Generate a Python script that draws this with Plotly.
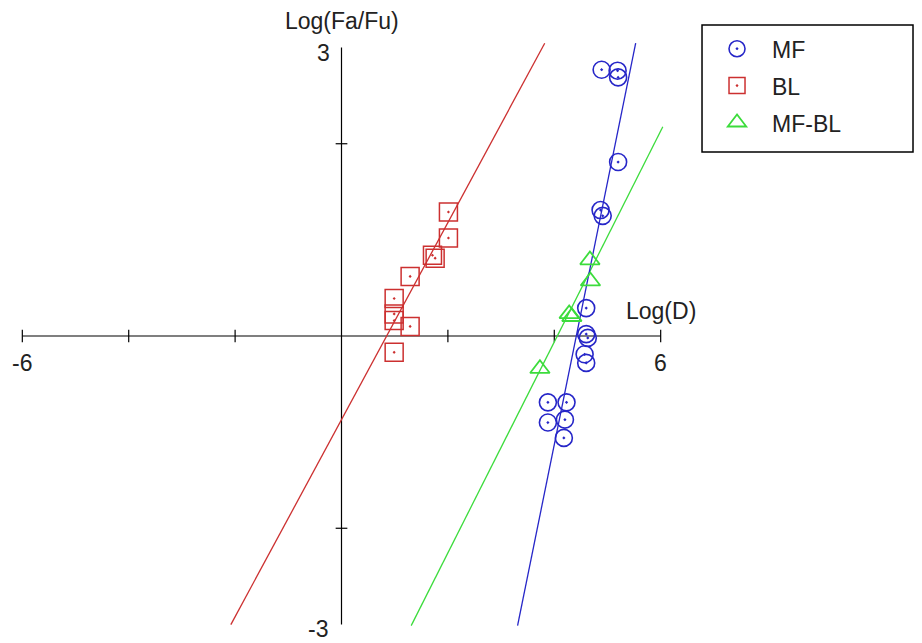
import plotly.graph_objects as go

# ---- data ----
mf_x = [4.89, 5.19, 5.20, 5.20, 4.87, 4.91, 4.60, 4.60, 4.63, 4.57, 4.60, 3.88, 4.23, 3.88, 4.20, 4.18]
mf_y = [2.77, 2.76, 2.69, 1.81, 1.31, 1.25, 0.29, 0.02, -0.02, -0.19, -0.28, -0.69, -0.69, -0.90, -0.87, -1.06]
bl_x = [2.01, 2.01, 1.71, 1.76, 1.29, 0.99, 0.99, 0.99, 1.29, 0.99]
bl_y = [1.29, 1.02, 0.84, 0.81, 0.62, 0.39, 0.23, 0.16, 0.10, -0.17]
mfbl_x = [4.67, 4.68, 4.28, 4.33, 3.73]
mfbl_y = [0.79, 0.57, 0.23, 0.20, -0.34]

# fitted lines: slope, intercept, x extent
mf_fit = dict(slope=2.73, intercept=-12.05, x=[3.31, 5.53])
bl_fit = dict(slope=1.025, intercept=-0.87, x=[-2.08, 3.82])
mfbl_fit = dict(slope=1.097, intercept=-4.45, x=[1.31, 6.04])

x_ticks = [-6, -4, -2, 2, 4, 6]
y_ticks = [-2, 2]
x_range = [-6, 6]
y_range = [-3, 3]

BLUE = "#2626c8"
RED = "#cc3030"
GREEN = "#3cdc3c"
FONT = "Liberation Sans"

fig = go.Figure()

# axes (crossing at origin)
fig.add_trace(go.Scatter(x=x_range, y=[0, 0], mode="lines", line=dict(color="black", width=1.2),
                         showlegend=False, hoverinfo="skip"))
fig.add_trace(go.Scatter(x=[0, 0], y=y_range, mode="lines", line=dict(color="black", width=1.2),
                         showlegend=False, hoverinfo="skip"))
tx, ty = [], []
for t in x_ticks:
    tx += [t, t, None]
    ty += [-0.065, 0.065, None]
for t in y_ticks:
    tx += [-0.11, 0.11, None]
    ty += [t, t, None]
fig.add_trace(go.Scatter(x=tx, y=ty, mode="lines", line=dict(color="black", width=1.2),
                         showlegend=False, hoverinfo="skip"))

def fit_line(f, color):
    xs = f["x"]
    ys = [f["slope"] * v + f["intercept"] for v in xs]
    return go.Scatter(x=xs, y=ys, mode="lines", line=dict(color=color, width=1.3),
                      showlegend=False, hoverinfo="skip")

fig.add_trace(fit_line(bl_fit, RED))
fig.add_trace(fit_line(mfbl_fit, GREEN))
fig.add_trace(fit_line(mf_fit, BLUE))

fig.add_trace(go.Scatter(x=mf_x, y=mf_y, mode="markers", name="MF", legendgroup="a",
                         marker=dict(symbol="circle-open-dot", size=17, color=BLUE, line=dict(width=1.6, color=BLUE))))
fig.add_trace(go.Scatter(x=bl_x, y=bl_y, mode="markers", name="BL", legendgroup="b",
                         marker=dict(symbol="square-open-dot", size=18, color=RED, line=dict(width=1.5, color=RED))))
fig.add_trace(go.Scatter(x=mfbl_x, y=mfbl_y, mode="markers", name="MF-BL", legendgroup="c",
                         marker=dict(symbol="triangle-up-open", size=17, color=GREEN, line=dict(width=1.8, color=GREEN))))

tf = dict(family=FONT, size=23, color="#222222")
ann = [
    dict(x=0, y=3, text="Log(Fa/Fu)", showarrow=False, yanchor="bottom", yshift=12, font=tf),
    dict(x=0, y=3, text="3", showarrow=False, xanchor="right", xshift=-10, yshift=-5, font=tf),
    dict(x=0, y=-3, text="-3", showarrow=False, xanchor="right", xshift=-12, yshift=-5, font=tf),
    dict(x=-6, y=0, text="-6", showarrow=False, yanchor="top", yshift=-12, font=tf),
    dict(x=6, y=0, text="6", showarrow=False, yanchor="top", yshift=-12, font=tf),
    dict(x=6, y=0, text="Log(D)", showarrow=False, yanchor="bottom", yshift=10, font=tf),
]

# the page body adds an 8px offset; margins compensate so the plot area sits where intended
fig.update_layout(
    width=914, height=635,
    margin=dict(l=9, r=256, t=30, b=9),
    paper_bgcolor="white", plot_bgcolor="white",
    xaxis=dict(range=[-6.1, 6.1], visible=False),
    yaxis=dict(range=[-3.1, 3.1], visible=False),
    showlegend=True,
    legend=dict(x=1.0555, y=1.018, xanchor="left", yanchor="top", font=tf,
                bgcolor="rgba(0,0,0,0)", borderwidth=0, itemwidth=60, tracegroupgap=4),
    annotations=ann,
    shapes=[dict(type="rect", xref="paper", yref="paper", x0=1.0555, x1=1.3806, y0=0.8087, y1=1.0218,
                 line=dict(color="black", width=1.5))],
)

fig.write_html("out.html")
